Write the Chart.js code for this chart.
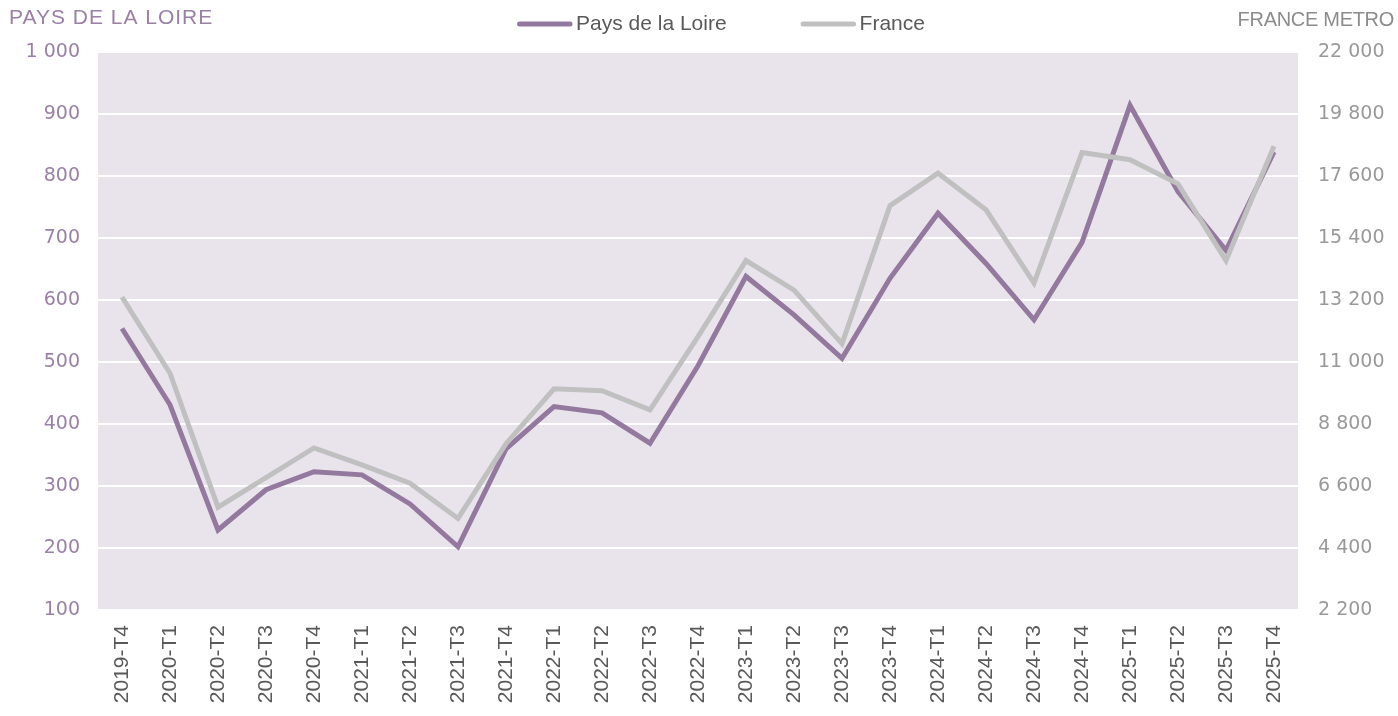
<!DOCTYPE html>
<html><head><meta charset="utf-8">
<script src="https://cdn.jsdelivr.net/npm/chart.js@4/dist/chart.umd.min.js"></script>
<style>html,body{margin:0;padding:0;background:#fff;}#wrap{width:1398px;height:716px;position:relative;}</style>
</head><body><div id="wrap"><canvas id="c"></canvas></div>
<script>
const categories = ['2019-T4','2020-T1','2020-T2','2020-T3','2020-T4','2021-T1','2021-T2','2021-T3','2021-T4','2022-T1','2022-T2','2022-T3','2022-T4','2023-T1','2023-T2','2023-T3','2023-T4','2024-T1','2024-T2','2024-T3','2024-T4','2025-T1','2025-T2','2025-T3','2025-T4'];
const paysDeLaLoire = [554,431,229,294,323,318,271,202,360,428,418,369,494,638,576,506,635,740,659,568,693,914,775,680,839];
const franceMetro = [13300,10600,5850,6900,7950,7350,6700,5450,8100,10050,9980,9300,11900,14600,13550,11650,16550,17700,16400,13800,18430,18180,17320,14600,18660];
const leftTitle = 'PAYS DE LA LOIRE';
const rightTitle = 'FRANCE METRO';
const seriesNames = ['Pays de la Loire','France'];

const PURPLE = '#94799f';
const GREY = '#c0c0c0';
const FONT = "'Liberation Sans', Arial, sans-serif";
const TICKFONT = "'DejaVu Sans', sans-serif";
const fmt = v => String(v).replace(/\B(?=(\d{3})+(?!\d))/g, ' ');

const bgPlugin = {
  id: 'bg',
  beforeDraw(chart) {
    const {ctx, chartArea: a} = chart;
    ctx.save();
    ctx.fillStyle = '#fff';
    ctx.fillRect(0, 0, chart.width, chart.height);
    ctx.fillStyle = '#e9e4ec';
    ctx.fillRect(a.left, a.top, a.right - a.left, a.bottom - a.top);
    ctx.restore();
  },
  afterDraw(chart) {
    const ctx = chart.ctx;
    ctx.save();
    ctx.textBaseline = 'middle';
    ctx.font = '21px ' + FONT;
    ctx.fillStyle = '#9a80a5';
    ctx.textAlign = 'left';
    ctx.letterSpacing = '1px';
    ctx.fillText(leftTitle, 9, 18);
    ctx.font = '20px ' + FONT;
    ctx.letterSpacing = '-0.3px';
    ctx.fillStyle = '#8c8c8c';
    ctx.textAlign = 'right';
    ctx.fillText(rightTitle, 1394, 20);
    ctx.letterSpacing = '0px';
    // legend
    ctx.font = '21px ' + FONT;
    ctx.textAlign = 'left';
    let x = 517;
    const y = 24;
    chart.data.datasets.forEach((ds) => {
      ctx.strokeStyle = ds.borderColor;
      ctx.lineWidth = 5;
      ctx.lineCap = 'round';
      ctx.beginPath();
      ctx.moveTo(x + 2.5, y);
      ctx.lineTo(x + 53, y);
      ctx.stroke();
      ctx.fillStyle = '#595959';
      ctx.fillText(ds.label, x + 59, y);
      x += 59 + ctx.measureText(ds.label).width + 74;
    });
    ctx.restore();
  }
};

new Chart(document.getElementById('c'), {
  type: 'line',
  data: {
    labels: categories,
    datasets: [
      {label: seriesNames[0], data: paysDeLaLoire, yAxisID: 'y', borderColor: PURPLE, backgroundColor: PURPLE, borderWidth: 5, pointRadius: 0, tension: 0, order: 1},
      {label: seriesNames[1], data: franceMetro, yAxisID: 'y1', borderColor: GREY, backgroundColor: GREY, borderWidth: 5, pointRadius: 0, tension: 0, order: 0}
    ]
  },
  options: {
    responsive: true,
    maintainAspectRatio: false,
    animation: false,
    layout: {padding: {top: 52, left: 0, right: 0, bottom: 0}},
    plugins: {legend: {display: false}, tooltip: {enabled: false}, title: {display: false}},
    scales: {
      x: {
        offset: true,
        grid: {display: false, drawTicks: false},
        border: {display: false},
        ticks: {minRotation: 90, maxRotation: 90, autoSkip: false, padding: 15, color: '#595959', font: {family: FONT, size: 21}},
        afterFit: s => { s.height = 106; }
      },
      y: {
        position: 'left', min: 100, max: 1000,
        grid: {color: '#ffffff', lineWidth: 2, drawTicks: false},
        border: {display: false},
        ticks: {stepSize: 100, padding: 18, color: '#9a80a5', font: {family: TICKFONT, size: 19}, callback: v => fmt(v)},
        afterFit: s => { s.width = 98; }
      },
      y1: {
        position: 'right', min: 2200, max: 22000,
        grid: {display: false, drawTicks: false},
        border: {display: false},
        ticks: {stepSize: 2200, padding: 20, color: '#999999', font: {family: TICKFONT, size: 19}, callback: v => fmt(v)},
        afterFit: s => { s.width = 100; }
      }
    }
  },
  plugins: [bgPlugin]
});
</script></body></html>
